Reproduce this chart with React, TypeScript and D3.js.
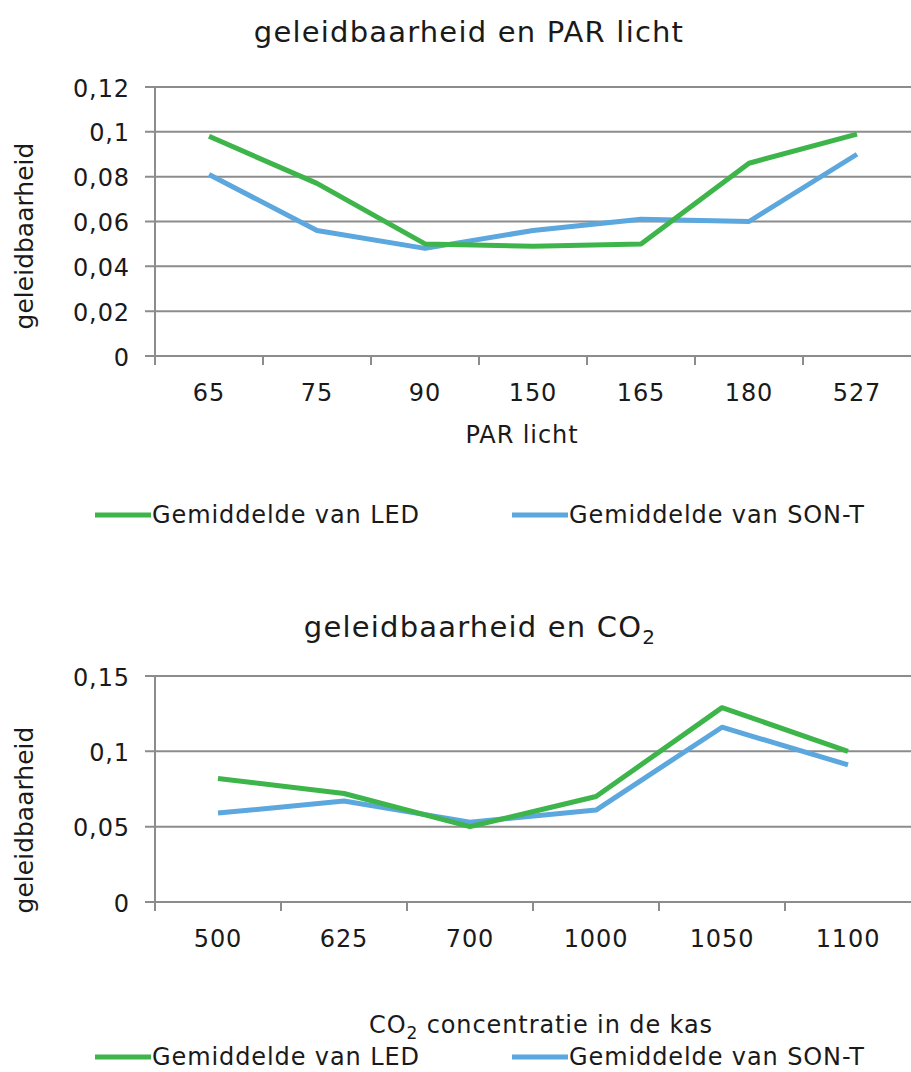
import { useEffect, useRef } from 'react'
import * as d3 from 'd3'

// chart 1: geleidbaarheid vs PAR licht
const parCategories = ['65', '75', '90', '150', '165', '180', '527']
const parLed = [0.098, 0.077, 0.05, 0.049, 0.05, 0.086, 0.099]
const parSont = [0.081, 0.056, 0.048, 0.056, 0.061, 0.06, 0.09]
const parTicks = [0, 0.02, 0.04, 0.06, 0.08, 0.1, 0.12]

// chart 2: geleidbaarheid vs CO2
const co2Categories = ['500', '625', '700', '1000', '1050', '1100']
const co2Led = [0.082, 0.072, 0.05, 0.07, 0.129, 0.1]
const co2Sont = [0.059, 0.067, 0.053, 0.061, 0.116, 0.091]
const co2Ticks = [0, 0.05, 0.1, 0.15]

const seriesNames = ['Gemiddelde van LED', 'Gemiddelde van SON-T']
const GREEN = '#3db54a'
const BLUE = '#5ba7de'
const GRID = '#8c8c8c'
const FONT = '"DejaVu Sans", Verdana, sans-serif'
const TEXT = '#1a1a1a'
const LS = 0.9 // letter spacing, the original font runs wide

const fmt = (v: number) => String(v).replace('.', ',')

export default function App() {
  const svgRef = useRef<SVGSVGElement>(null)

  useEffect(() => {
    document.body.style.margin = '0'
    if (!svgRef.current) return
    const svg = d3.select(svgRef.current)
    svg.selectAll('*').remove()

    const left = 155
    const right = 911

    function drawChart(opts: {
      top: number
      bottom: number
      cats: string[]
      led: number[]
      sont: number[]
      ticks: number[]
      yMax: number
      labelY: number
    }) {
      const { top, bottom, cats, led, sont, ticks, yMax, labelY } = opts
      const g = svg.append('g')
      const x = d3.scaleBand().domain(cats).range([left, right])
      const y = d3.scaleLinear().domain([0, yMax]).range([bottom, top])

      // horizontal grid
      g.append('g')
        .selectAll('line')
        .data(ticks)
        .enter().append('line')
        .attr('x1', left - 10)
        .attr('x2', right)
        .attr('y1', d => y(d))
        .attr('y2', d => y(d))
        .attr('stroke', GRID)
        .attr('stroke-width', 2)

      // y axis line
      g.append('line')
        .attr('x1', left).attr('x2', left)
        .attr('y1', top).attr('y2', bottom + 9)
        .attr('stroke', GRID).attr('stroke-width', 2)

      // x tick marks at band boundaries
      g.append('g')
        .selectAll('line')
        .data(cats.slice(1))
        .enter().append('line')
        .attr('x1', d => x(d)!)
        .attr('x2', d => x(d)!)
        .attr('y1', bottom)
        .attr('y2', bottom + 9)
        .attr('stroke', GRID)
        .attr('stroke-width', 2)

      // y tick labels
      g.append('g')
        .selectAll('text')
        .data(ticks)
        .enter().append('text')
        .attr('x', left - 25)
        .attr('y', d => y(d))
        .attr('dy', '0.4em')
        .attr('text-anchor', 'end')
        .attr('font-family', FONT)
        .attr('font-size', 24)
        .attr('letter-spacing', LS)
        .attr('fill', TEXT)
        .text(d => fmt(d))

      // x tick labels
      g.append('g')
        .selectAll('text')
        .data(cats)
        .enter().append('text')
        .attr('x', d => x(d)! + x.bandwidth() / 2)
        .attr('y', bottom + 45)
        .attr('text-anchor', 'middle')
        .attr('font-family', FONT)
        .attr('font-size', 24)
        .attr('letter-spacing', LS)
        .attr('fill', TEXT)
        .text(d => d)

      // lines
      const line = d3.line<number>()
        .x((_, i) => x(cats[i])! + x.bandwidth() / 2)
        .y(d => y(d))
      ;[[sont, BLUE], [led, GREEN]].forEach(([vals, color]) => {
        g.append('path')
          .datum(vals as number[])
          .attr('d', line)
          .attr('fill', 'none')
          .attr('stroke', color as string)
          .attr('stroke-width', 5)
          .attr('stroke-linejoin', 'round')
      })

      // y axis title
      g.append('text')
        .attr('transform', `translate(33,${labelY}) rotate(-90)`)
        .attr('text-anchor', 'middle')
        .attr('font-family', FONT)
        .attr('font-size', 25)
        .attr('fill', TEXT)
        .text('geleidbaarheid')
    }

    function drawLegend(yPos: number) {
      const items = [
        { name: seriesNames[0], color: GREEN, x0: 95 },
        { name: seriesNames[1], color: BLUE, x0: 512 },
      ]
      items.forEach(it => {
        svg.append('line')
          .attr('x1', it.x0).attr('x2', it.x0 + 56)
          .attr('y1', yPos).attr('y2', yPos)
          .attr('stroke', it.color).attr('stroke-width', 5)
        svg.append('text')
          .attr('x', it.x0 + 57)
          .attr('y', yPos)
          .attr('dy', '0.35em')
          .attr('font-family', FONT)
          .attr('font-size', 24)
          .attr('letter-spacing', LS)
          .attr('fill', TEXT)
          .text(it.name)
      })
    }

    // chart 1
    svg.append('text')
      .attr('x', 469).attr('y', 42)
      .attr('text-anchor', 'middle')
      .attr('font-family', FONT)
      .attr('font-size', 29)
      .attr('letter-spacing', 1.2)
      .attr('fill', TEXT)
      .text('geleidbaarheid en PAR licht')
    drawChart({ top: 87, bottom: 356, cats: parCategories, led: parLed, sont: parSont, ticks: parTicks, yMax: 0.12, labelY: 236 })
    svg.append('text')
      .attr('x', 522).attr('y', 443)
      .attr('text-anchor', 'middle')
      .attr('font-family', FONT)
      .attr('font-size', 24)
      .attr('letter-spacing', LS)
      .attr('fill', TEXT)
      .text('PAR licht')
    drawLegend(515)

    // chart 2
    const t2 = svg.append('text')
      .attr('x', 480).attr('y', 637)
      .attr('text-anchor', 'middle')
      .attr('font-family', FONT)
      .attr('font-size', 29)
      .attr('letter-spacing', 1.2)
      .attr('fill', TEXT)
    t2.append('tspan').text('geleidbaarheid en CO')
    t2.append('tspan').attr('font-size', 20).attr('dy', 7).text('2')
    drawChart({ top: 676, bottom: 902, cats: co2Categories, led: co2Led, sont: co2Sont, ticks: co2Ticks, yMax: 0.15, labelY: 820 })
    const t3 = svg.append('text')
      .attr('x', 541).attr('y', 1033)
      .attr('text-anchor', 'middle')
      .attr('font-family', FONT)
      .attr('font-size', 24)
      .attr('letter-spacing', LS)
      .attr('fill', TEXT)
    t3.append('tspan').text('CO')
    t3.append('tspan').attr('font-size', 17).attr('dy', 6).text('2')
    t3.append('tspan').attr('dy', -6).text(' concentratie in de kas')
    drawLegend(1057)
  }, [])

  return <svg ref={svgRef} width={911} height={1072} style={{ display: 'block', background: '#fff' }} />
}
